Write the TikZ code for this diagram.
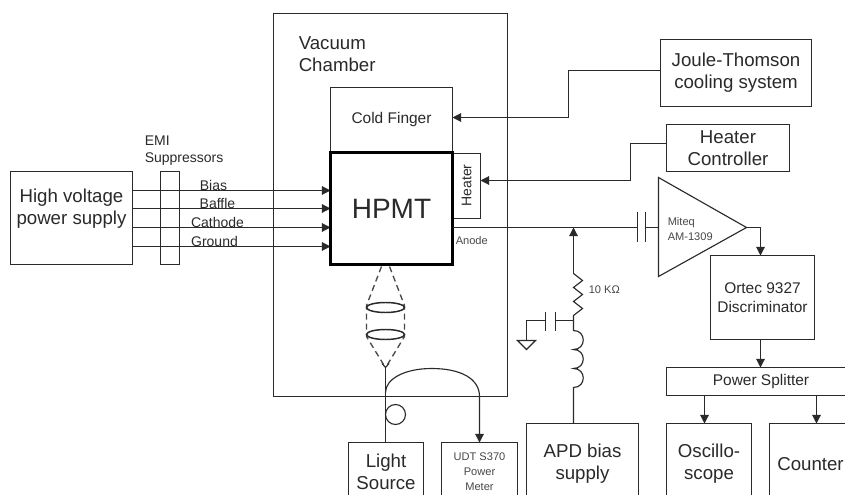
\documentclass[tikz,border=0pt]{standalone}
\usepackage{fontspec}
\setmainfont{Liberation Sans}
\usetikzlibrary{arrows.meta}
\definecolor{ink}{HTML}{2A2A2A}
\definecolor{soft}{HTML}{484848}
\tikzset{
  x=0.75pt,y=-0.75pt,
  wire/.style={draw=ink,line width=0.85pt},
  arr/.style={wire,-{Triangle[length=6.5pt,width=6.5pt]}},
  dashlens/.style={draw=soft,line width=1pt,dash pattern=on 4.5pt off 3pt},
  lens/.style={fill=white,draw=ink,line width=1.1pt},
  box/.style={draw=ink,line width=0.85pt,inner sep=0pt,outer sep=0pt,align=center,text=ink,anchor=north west},
  wh/.style 2 args={minimum width=#1*0.75pt,minimum height=#2*0.75pt},
  large/.style={font=\fontsize{14}{16.5}\selectfont},
  mid/.style={font=\fontsize{11.6}{14.5}\selectfont},
  small/.style={font=\fontsize{10.5}{13.2}\selectfont},
  tiny/.style={font=\fontsize{8.3}{11.3}\selectfont},
  txt/.style={inner sep=0pt,text=ink,align=center},
  lefttxt/.style={inner sep=0pt,text=ink,align=left,anchor=west},
}
\begin{document}
\begin{tikzpicture}
\useasboundingbox (0,0) rectangle (845,495);
\fill[white] (0,0) rectangle (845,495);
\begin{scope}[shift={(0.5,0.5)}]
% boxes
\node[box,wh={234}{383}] (chamber) at (273,13) {};
\node[box,wh={122}{65},mid] (cold) at (330,87) {\raisebox{-1.5pt}{Cold Finger}};
\node[box,wh={28}{65}] (heater) at (452,153) {};
\node[txt,small,rotate=90] (heatertxt) at (466,185) {Heater};
\node[box,wh={122}{93}] (hv) at (10,171) {};
\node[txt,large] (hvtxt) at (71,208) {High voltage\\power supply};
\node[box,wh={19}{93}] (emi) at (160,171) {};
\node[lefttxt,small] (emitxt) at (144,150) {EMI\\Suppressors};
\node[lefttxt,large] (chambertxt) at (298,54) {Vacuum\\Chamber};
\node[box,wh={151}{67},large] (jt) at (660,39) {Joule-Thomson\\cooling system};
\node[box,wh={123}{47},large] (hc) at (666,124) {Heater\\Controller};
\node[box,wh={104}{84},mid] (ortec) at (710,255) {Ortec 9327\\Discriminator};
\node[box,wh={189}{28},mid] (split) at (666,367) {\raisebox{-1.5pt}{Power Splitter}};
\node[box,wh={85}{81},large] (osc) at (666,423) {Oscillo-\\scope};
\node[box,wh={82}{81},large] (count) at (769,423) {Counter};
\node[box,wh={112}{81},large] (apd) at (526,423) {APD bias\\supply};
\node[box,wh={75}{58},large] (light) at (348,442) {Light\\Source};
\node[box,wh={76}{58},tiny,text=soft] (udt) at (441,442) {UDT S370\\Power\\Meter};
% HV lines
\foreach \n/\yy in {bias/190,baffle/208,cathode/227,ground/246}{
  \coordinate (\n) at (330,\yy);
  \draw[arr] (hv.east |- \n) -- (\n);
}
\node[txt,small] (biastxt) at (213,185) {Bias};
\node[txt,small] (baffletxt) at (217,203) {Baffle};
\node[txt,small] (cathodetxt) at (217,222) {Cathode};
\node[txt,small] (groundtxt) at (214,241) {Ground};
% control lines
\coordinate (coldin) at (452,117);
\coordinate (heatin) at (480,180);
\coordinate (jtout) at (660,70);
\coordinate (hcout) at (666,143);
\draw[arr] (jtout) -- (568,70) |- (coldin);
\draw[arr] (hcout) -- (630,143) |- (heatin);
% HPMT
\node[box,wh={122}{112},line width=2.4pt,draw=black,font=\fontsize{21}{24}\selectfont] (hpmt) at (330,152) {HPMT};
\node[lefttxt,tiny,text=soft] (anodetxt) at (455,240) {Anode};
% anode line and amplifier
\coordinate (capl) at (637,227);
\coordinate (capr) at (645,227);
\coordinate (ampin) at (658,227);
\coordinate (amptip) at (746,227);
\coordinate (junction) at (573,227);
\draw[wire] (hpmt.east |- capl) -- (capl);
\draw[wire] (capr) -- (ampin);
\draw[wire] (637,212) -- (637,242);
\draw[wire] (645,212) -- (645,242);
\draw[wire,line join=miter] (658,177) -- (amptip) -- (658,276) -- cycle;
\node[lefttxt,tiny,text=soft,align=left] (amptxt) at (667,228.5) {Miteq\\AM-1309};
\draw[arr] (amptip) -| (ortec.north -| 760,0);
\draw[arr] (ortec.south -| 760,0) -- (split.north -| 760,0);
\draw[arr] (split.south -| 704,0) -- (osc.north -| 704,0);
\draw[arr] (split.south -| 816,0) -- (count.north -| 816,0);
% bias network
\coordinate (rtop) at (573,273);
\coordinate (rbot) at (573,320);
\draw[arr] (rtop) -- (junction);
\draw[wire] (rtop) -- (582,280) -- (573,287) -- (582,294) -- (573,301) -- (582,308) -- (573,315) -- (rbot);
\node[lefttxt,tiny,text=soft] (rtxt) at (588,289) {10 KΩ};
\coordinate (lt) at (573,330);
\draw[wire] (rbot) -- (lt) .. controls (586,330) and (586,349) .. (573,349)
  .. controls (586,349) and (586,368) .. (573,368)
  .. controls (586,368) and (586,387) .. (573,387) -- (apd.north -| 573,0);
\draw[wire] (rbot) -- (555,320);
\draw[wire] (555,311) -- (555,330);
\draw[wire] (545,311) -- (545,330);
\draw[wire] (545,320) -- (526,320) -- (526,340);
\draw[wire,line join=miter] (517,340) -- (535,340) -- (526,349) -- cycle;
% optics
\draw[dashlens] (381,266) -- (366,305) -- (366,336) -- (383,364);
\draw[dashlens] (389,266) -- (404,305) -- (404,336) -- (387,364);
\draw[lens] (385,307) ellipse [x radius=19,y radius=5];
\draw[lens] (385,334) ellipse [x radius=19,y radius=5];
\coordinate (fibertop) at (385,367);
\draw[wire] (381.5,363) -- (fibertop) -- (388.5,363);
\draw[wire] (fibertop) -- (light.north -| fibertop);
\draw[wire] (395,414) circle [radius=7.5pt];
\draw[arr] (385,392) .. controls (385,378) and (405,368) .. (431,368)
  .. controls (460,368) and (479,378) .. (479,396) -- (udt.north -| 479,0);
\end{scope}
\end{tikzpicture}
\end{document}
